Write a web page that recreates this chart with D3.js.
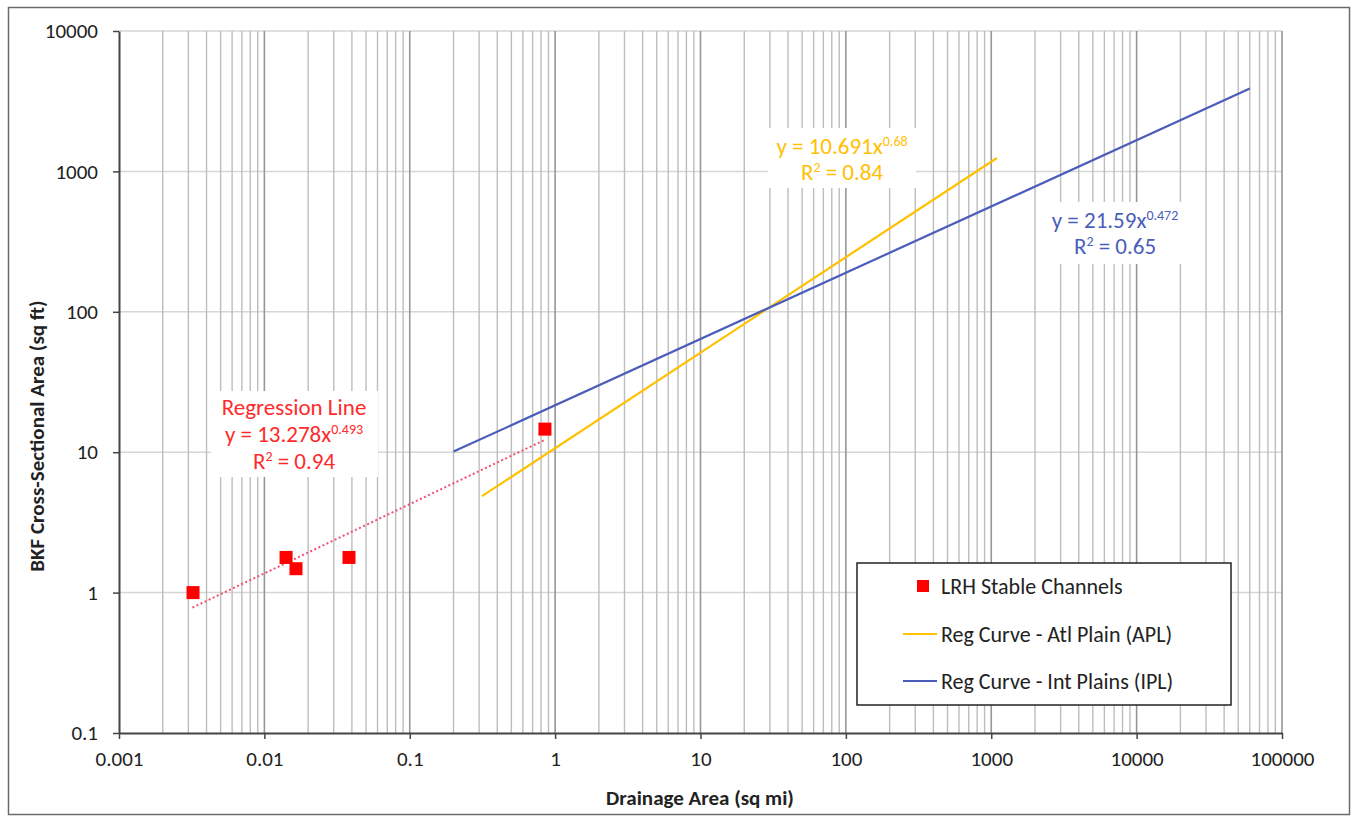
<!DOCTYPE html>
<html>
<head>
<meta charset="utf-8">
<script src="https://cdn.jsdelivr.net/npm/d3@7"></script>
<style>
  html, body { margin: 0; padding: 0; background: #fff; }
  svg text { font-family: Carlito, Lato, "Open Sans", sans-serif; }
</style>
</head>
<body>
<svg id="chart" width="1353" height="817"></svg>
<script>
// Observed stable channels: drainage area (sq mi) and bankfull area (sq ft)
const siteArea = [0.00323, 0.0141, 0.0165, 0.0382, 0.851];
const siteXsec = [1.0, 1.78, 1.48, 1.78, 14.6];

// Power-law regional curves y = a * x^b
const fitNames = ["Regression Line", "Reg Curve - Atl Plain (APL)", "Reg Curve - Int Plains (IPL)"];
const fitCoef = [13.278, 10.691, 21.59];
const fitExp = [0.493, 0.68, 0.472];
const fitR2 = [0.94, 0.84, 0.65];
const fitFrom = [0.0032, 0.314, 0.2];
const fitTo = [0.85, 1094, 60100];

const xTicks = [0.001, 0.01, 0.1, 1, 10, 100, 1000, 10000, 100000];
const yTicks = [0.1, 1, 10, 100, 1000, 10000];
const xTickLabels = ["0.001", "0.01", "0.1", "1", "10", "100", "1000", "10000", "100000"];
const yTickLabels = ["0.1", "1", "10", "100", "1000", "10000"];

const svg = d3.select("#chart");
const m = { left: 119, right: 1282, top: 31, bottom: 733 };

const x = d3.scaleLog().domain([0.001, 100000]).range([m.left, m.right]);
const y = d3.scaleLog().domain([0.1, 10000]).range([m.bottom, m.top]);

// outer frame
svg.append("rect").attr("x", 8.5).attr("y", 7.5).attr("width", 1341).attr("height", 807)
  .attr("fill", "#fff").attr("stroke", "#6b6b6b").attr("stroke-width", 1.5);

// minor x values (2..9 within each decade)
const xMinor = [];
for (let e = -3; e < 5; e++) for (let k = 2; k <= 9; k++) xMinor.push(k * Math.pow(10, e));

const grid = svg.append("g");
grid.selectAll("line.hy").data(yTicks.slice(1)).join("line")
  .attr("x1", m.left).attr("x2", m.right)
  .attr("y1", d => y(d)).attr("y2", d => y(d))
  .attr("stroke", "#d6d6d6").attr("stroke-width", 1.5);
grid.selectAll("line.vm").data(xMinor).join("line")
  .attr("x1", d => x(d)).attr("x2", d => x(d))
  .attr("y1", m.top).attr("y2", m.bottom)
  .attr("stroke", "#bdbdbd").attr("stroke-width", 1.4);
grid.selectAll("line.vM").data(xTicks.slice(1)).join("line")
  .attr("x1", d => x(d)).attr("x2", d => x(d))
  .attr("y1", m.top).attr("y2", m.bottom)
  .attr("stroke", "#969696").attr("stroke-width", 1.6);

// axes
const xAxis = d3.axisBottom(x).tickValues(xTicks).tickFormat((d, i) => xTickLabels[i])
  .tickSizeInner(6).tickSizeOuter(0).tickPadding(12);
const yAxis = d3.axisLeft(y).tickValues(yTicks).tickFormat((d, i) => yTickLabels[i])
  .tickSizeInner(6).tickSizeOuter(0).tickPadding(15);

const gx = svg.append("g").attr("transform", `translate(0,${m.bottom})`).call(xAxis);
const gy = svg.append("g").attr("transform", `translate(${m.left},0)`).call(yAxis);
[gx, gy].forEach(g => {
  g.select(".domain").attr("stroke", "#444").attr("stroke-width", 2);
  g.selectAll(".tick line").attr("stroke", "#444").attr("stroke-width", 1.5);
  g.selectAll(".tick text").attr("fill", "#222").attr("font-size", 21)
    .style("font-family", "Carlito, Lato, 'Open Sans', sans-serif");
});

// axis titles
svg.append("text").attr("x", 700).attr("y", 805).attr("text-anchor", "middle")
  .attr("font-size", 21).attr("font-weight", "bold").attr("fill", "#222")
  .text("Drainage Area (sq mi)");
svg.append("text").attr("transform", "translate(44,436) rotate(-90)").attr("text-anchor", "middle")
  .attr("font-size", 21).attr("font-weight", "bold").attr("fill", "#222")
  .text("BKF Cross-Sectional Area (sq ft)");

// regression curves
const colors = ["#ff2a2a", "#ffc000", "#4a5dbb"];
const line = d3.line().x(d => x(d[0])).y(d => y(d[1]));
fitNames.forEach((name, i) => {
  const pts = [fitFrom[i], fitTo[i]].map(v => [v, fitCoef[i] * Math.pow(v, fitExp[i])]);
  const p = svg.append("path").datum(pts).attr("d", line).attr("fill", "none")
    .attr("stroke", i === 0 ? "#f0506e" : colors[i]).attr("stroke-width", i === 0 ? 2 : 2.2);
  if (i === 0) p.attr("stroke-dasharray", "2,2.5");
});

// observed points
svg.selectAll("rect.pt").data(siteArea).join("rect")
  .attr("x", d => x(d) - 6.5).attr("y", (d, i) => y(siteXsec[i]) - 6.5)
  .attr("width", 13).attr("height", 13).attr("fill", "#ff0000");

// equation labels with superscripts
function eqLabel(cx, cy, gap, lines, color, box) {
  const g = svg.append("g");
  g.append("rect").attr("x", box[0]).attr("y", box[1]).attr("width", box[2]).attr("height", box[3]).attr("fill", "#fff");
  lines.forEach((ln, k) => {
    const t = g.append("text").attr("x", cx).attr("y", cy + k * gap).attr("text-anchor", "middle")
      .attr("font-size", 23).attr("fill", color);
    let raised = false;
    ln.forEach(part => {
      if (part.sup) {
        t.append("tspan").attr("dy", -8).attr("font-size", 14).text(part.sup);
        raised = true;
      } else {
        t.append("tspan").attr("dy", raised ? 8 : 0).text(part.t);
        raised = false;
      }
    });
  });
}
const eqLines = i => {
  const out = [];
  if (i === 0) out.push([{ t: "Regression Line" }]);
  out.push([{ t: `y = ${fitCoef[i]}x` }, { sup: String(fitExp[i]) }]);
  out.push([{ t: "R" }, { sup: "2" }, { t: ` = ${fitR2[i].toFixed(2)}` }]);
  return out;
};
eqLabel(294, 415, 27, eqLines(0), "#ff2a2a", [211, 391, 167, 86]);
eqLabel(842, 154, 26, eqLines(1), "#ffc000", [768, 128, 148, 60]);
eqLabel(1115, 228, 26, eqLines(2), "#4a5dbb", [1036, 202, 158, 62]);

// legend
const lg = svg.append("g");
lg.append("rect").attr("x", 857).attr("y", 563).attr("width", 374).attr("height", 142)
  .attr("fill", "#fff").attr("stroke", "#222").attr("stroke-width", 1.5);
const legY = [586, 634, 681];
fitNames.slice(1).forEach((name, k) => {
  lg.append("line").attr("x1", 903).attr("x2", 937).attr("y1", legY[k + 1]).attr("y2", legY[k + 1])
    .attr("stroke", colors[k + 1]).attr("stroke-width", 2);
});
lg.append("rect").attr("x", 917).attr("y", legY[0] - 6).attr("width", 12).attr("height", 12).attr("fill", "#ff0000");
const legLabels = ["LRH Stable Channels", fitNames[1], fitNames[2]];
legLabels.forEach((t, k) => {
  lg.append("text").attr("x", 941).attr("y", legY[k] + 8).attr("font-size", 22).attr("fill", "#222").text(t);
});
</script>
</body>
</html>
